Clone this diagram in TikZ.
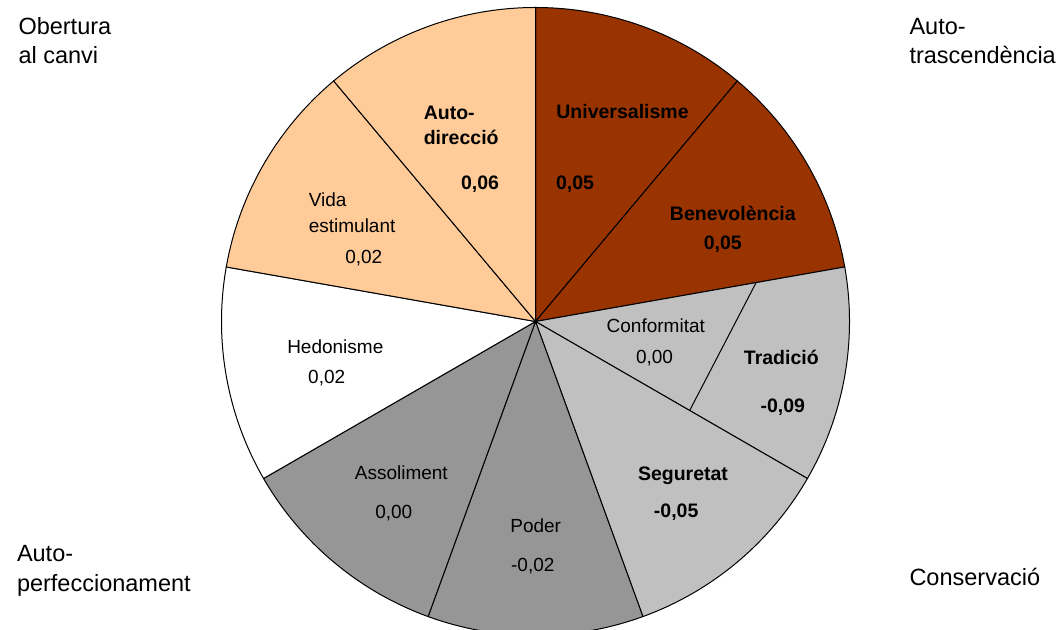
\documentclass[tikz,border=0pt]{standalone}
\usepackage{fontspec}
\setmainfont{Liberation Sans}
\usepackage{tikz}
\usepackage{xcolor}
\definecolor{brick}{HTML}{993300}
\definecolor{peach}{HTML}{FFCC99}
\definecolor{midgray}{HTML}{969696}
\definecolor{lightgray}{HTML}{C0C0C0}

\begin{document}
\begin{tikzpicture}[x=1pt,y=1pt,line width=1pt]
  \tikzstyle{lbl}=[inner sep=0pt,anchor=base,font=\fontsize{19}{23}\selectfont]
  \tikzstyle{blbl}=[lbl,font=\fontsize{19.5}{23}\selectfont\bfseries]
  \tikzstyle{corner}=[inner sep=0pt,anchor=base west,font=\fontsize{23.5}{29}\selectfont]

  \useasboundingbox (0,0) rectangle (1059,629);

  % the circle, nine sectors of 40 degrees
  \begin{scope}[shift={(535.5,307.5)}]
    \coordinate (O) at (0,0);
    \foreach \a/\b/\c in {90/50/brick, 50/10/brick, 10/-30/lightgray,
                          -30/-70/lightgray, -70/-110/midgray, -110/-150/midgray,
                          -150/-190/white, 170/130/peach, 130/90/peach}
      \filldraw[fill=\c,draw=black] (O) -- (\a:314) arc (\a:\b:314) -- cycle;
    \coordinate (T1) at (10:224);
    \coordinate (T2) at (-30:178);
    \draw (T1) -- (T2);
  \end{scope}

  % sector labels
  \node[blbl,anchor=base west] (dir1) at (423.3,509.7) {Auto-};
  \node[blbl,anchor=base west] (dir2) at (423.3,484.7) {direcció};
  \node[blbl] (dirv) at (480,439.7) {0,06};
  \node[blbl] (uni) at (622.5,510.7) {Universalisme};
  \node[blbl] (univ) at (575,439.7) {0,05};
  \node[blbl] (ben) at (732.8,408.3) {Benevolència};
  \node[blbl] (benv) at (722.8,379.7) {0,05};
  \node[lbl] (con) at (655.8,296.7) {Conformitat};
  \node[lbl] (conv) at (654.5,265.7) {0,00};
  \node[blbl] (tra) at (781.3,264) {Tradició};
  \node[blbl] (trav) at (782.8,216.7) {-0,09};
  \node[blbl] (seg) at (683,148.3) {Seguretat};
  \node[blbl] (segv) at (676.2,111.3) {-0,05};
  \node[lbl] (pod) at (535.7,96.3) {Poder};
  \node[lbl] (podv) at (532.8,57.3) {-0,02};
  \node[lbl] (ass) at (401.3,149) {Assoliment};
  \node[lbl] (assv) at (393.8,110.7) {0,00};
  \node[lbl] (hed) at (335.3,275.7) {Hedonisme};
  \node[lbl] (hedv) at (326.7,245.7) {0,02};
  \node[lbl,anchor=base west] (vid1) at (308.3,422.3) {Vida};
  \node[lbl,anchor=base west] (vid2) at (308.3,396.3) {estimulant};
  \node[lbl] (vidv) at (363.8,365) {0,02};

  % the four higher order values
  \node[corner] (obe1) at (18,594.7) {Obertura};
  \node[corner] (obe2) at (18,565.7) {al canvi};
  \node[corner] (tras1) at (909,594) {Auto-};
  \node[corner] (tras2) at (909,565) {trascendència};
  \node[corner] (perf1) at (16.5,67.3) {Auto-};
  \node[corner] (perf2) at (16.5,37.3) {perfeccionament};
  \node[corner] (cons) at (909,44) {Conservació};
\end{tikzpicture}
\end{document}
